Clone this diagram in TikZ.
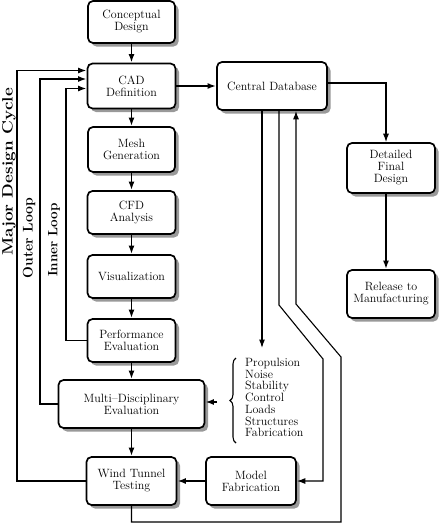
\documentclass[tikz,border=0pt]{standalone}
\usepackage{fontspec}
\usepackage{graphicx}
\usetikzlibrary{shadows,arrows.meta,calc,decorations.pathreplacing}
\begin{document}
\begin{tikzpicture}[x=1pt,y=-1pt,
  box/.style={draw=black, line width=1.7pt, rounded corners=5pt, fill=white,
    align=center, inner sep=1pt, font=\fontsize{12}{12}\selectfont,
    drop shadow={shadow xshift=3.5pt, shadow yshift=-3.5pt, fill=black!40, opacity=1}},
  arr/.style={line width=1.8pt, -{Latex[length=8.5pt,width=6pt]}},
  thinarr/.style={line width=1.1pt, -{Latex[length=8.5pt,width=6pt]}},
  vlabel/.style={rotate=90, inner sep=0pt, font=\fontsize{14}{14}\selectfont\bfseries}
]
\useasboundingbox (0,0) rectangle (441,523);
\fill[white] (0,0) rectangle (441,523);

% column boxes
\node[box, minimum width=87, minimum height=42] (concept) at (131.5,22) {Conceptual\\Design};
\node[box, minimum width=88, minimum height=45] (cad) at (131.5,86) {CAD\\Definition};
\node[box, minimum width=87, minimum height=45] (mesh) at (131.5,149.5) {Mesh\\Generation};
\node[box, minimum width=88, minimum height=43] (cfd) at (131.5,212.5) {CFD\\Analysis};
\node[box, minimum width=88, minimum height=43] (vis) at (131.5,276.5) {Visualization};
\node[box, minimum width=88, minimum height=43] (perf) at (131.5,340.5) {Performance\\Evaluation};
\node[box, minimum width=146, minimum height=48] (multi) at (131.5,404) {Multi--Disciplinary\\Evaluation};
\node[box, minimum width=90, minimum height=48] (wind) at (131.5,481) {Wind Tunnel\\Testing};
\node[box, minimum width=90, minimum height=48] (model) at (251,481) {Model\\Fabrication};
\node[box, minimum width=110, minimum height=48] (central) at (272,86) {Central Database};
\node[box, minimum width=88, minimum height=50] (detailed) at (391,168) {Detailed\\Final\\Design};
\node[box, minimum width=88, minimum height=48] (release) at (391,294) {Release to\\Manufacturing};

% list
\node[anchor=north west, align=left, inner sep=0pt, font=\fontsize{12}{11.7}\selectfont] (list) at (245,358)
  {Propulsion\\Noise\\Stability\\Control\\Loads\\Structures\\Fabrication};
\draw[line width=1.1pt, decorate, decoration={brace, amplitude=6pt}]
  (236,443) -- (236,358);

% column arrows
\draw[arr] (concept) -- (cad);
\draw[arr] (cad) -- (mesh);
\draw[arr] (mesh) -- (cfd);
\draw[arr] (cfd) -- (vis);
\draw[arr] (vis) -- (perf);
\draw[arr] (perf) -- (multi);
\draw[arr] (multi) -- (wind);
\draw[arr] (model) -- (wind);
\draw[arr] (cad) -- (central);

% central database to detailed / release
\draw[thinarr] ($(central.east)+(0,-3)$) -| ($(detailed.north)+(-5,0)$);
\draw[arr] ($(detailed.south)+(-5,0)$) -- ($(release.north)+(-5,0)$);

% lines from central database
\coordinate (a1) at (262,348);
\draw[thinarr] ($(central.south)+(-10,0)$) -- (a1);
\coordinate (b2) at (279,305);
\coordinate (c2) at (323,359);
\draw[thinarr] ($(central.south)+(7,0)$) -- (b2) -- (c2) |- (model.east);
\coordinate (b3) at (296,304);
\coordinate (c3) at (341,357);
\coordinate (d3) at (341,522);
\draw[thinarr] (wind.south) |- (d3) -- (c3) -- (b3) -- (b3 |- central.south);

% list to multi-disciplinary
\coordinate (bl) at (217,402);
\draw[arr] (bl) -- (bl -| multi.east);

% feedback loops
\coordinate (il) at (66,0);
\coordinate (ol) at (40,0);
\coordinate (ml) at (17,0);
\draw[arr] (perf.west) -- (perf.west -| il) |- ($(cad.west)+(0,2.5)$);
\draw[arr] (multi.west) -- (multi.west -| ol) |- ($(cad.west)+(0,-7)$);
\draw[arr] (wind.west) -- (wind.west -| ml) |- ($(cad.west)+(0,-15.5)$);

\node[vlabel, font=\fontsize{15}{15}\selectfont\bfseries] (major) at (9,172) {\scalebox{1.14}[1]{Major Design Cycle}};
\node[vlabel] (outer) at (29,238) {Outer Loop};
\node[vlabel, font=\fontsize{13.5}{13.5}\selectfont\bfseries] (inner) at (54,240) {Inner Loop};
\end{tikzpicture}
\end{document}
